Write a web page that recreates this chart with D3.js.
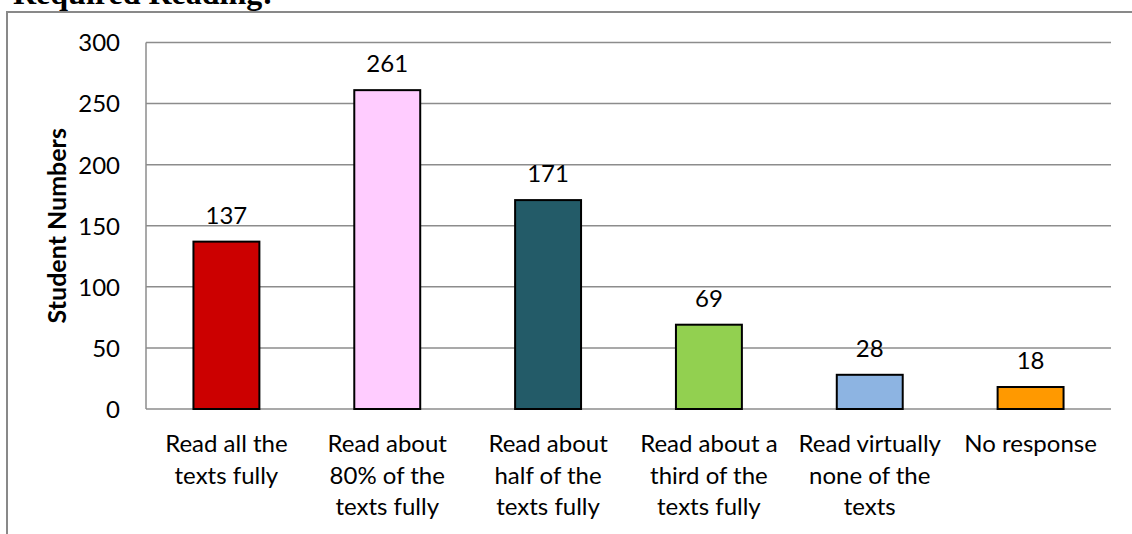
<!DOCTYPE html>
<html>
<head>
<meta charset="utf-8">
<script src="https://cdn.jsdelivr.net/npm/d3@7"></script>
<style>
  html, body { margin: 0; padding: 0; background: #ffffff; }
  svg { display: block; }
</style>
</head>
<body>
<svg id="chart" width="1132" height="534"></svg>
<script>
const categories = [
  "Read all the\ntexts fully",
  "Read about\n80% of the\ntexts fully",
  "Read about\nhalf of the\ntexts fully",
  "Read about a\nthird of the\ntexts fully",
  "Read virtually\nnone of the\ntexts",
  "No response"
];
const values = [137, 261, 171, 69, 28, 18];
const colors = ["#CC0000", "#FFCCFF", "#235B68", "#92D050", "#8DB4E2", "#FF9900"];
const yTicks = [0, 50, 100, 150, 200, 250, 300];
const yTitle = "Student Numbers";
const topText = "Required Reading:";

const W = 1132, H = 534;
const plot = { left: 146, right: 1111, top: 42.5, bottom: 409 };
const FONT = "Lato, 'Open Sans', sans-serif";
const FS = 24;

const svg = d3.select("#chart");

// cut-off heading above chart
svg.append("text")
  .attr("x", 13).attr("y", 3.5)
  .attr("font-family", "'Liberation Serif', 'Times New Roman', serif")
  .attr("font-weight", "bold")
  .attr("font-size", 32)
  .attr("fill", "#000")
  .text(topText);

// outer chart border (left + top visible)
svg.append("path")
  .attr("d", `M7,${H} L7,12 L${W},12`)
  .attr("fill", "none")
  .attr("stroke", "#898989")
  .attr("stroke-width", 2);

const x = d3.scaleBand()
  .domain(d3.range(categories.length))
  .range([plot.left, plot.right])
  .paddingInner(0.59)
  .paddingOuter(0.295);

const y = d3.scaleLinear().domain([0, 300]).range([plot.bottom, plot.top]);

// gridlines
svg.append("g")
  .selectAll("line")
  .data(yTicks)
  .join("line")
  .attr("x1", plot.left).attr("x2", plot.right)
  .attr("y1", d => y(d)).attr("y2", d => y(d))
  .attr("stroke", "#8c8c8c")
  .attr("stroke-width", 1.5);

// y axis line
svg.append("line")
  .attr("x1", plot.left).attr("x2", plot.left)
  .attr("y1", plot.top).attr("y2", plot.bottom)
  .attr("stroke", "#8c8c8c")
  .attr("stroke-width", 1.5);

// y tick labels via axis
const yAxis = d3.axisLeft(y).tickValues(yTicks).tickSize(0).tickPadding(0);
const yg = svg.append("g").attr("transform", `translate(${plot.left - 26},0)`).call(yAxis);
yg.select(".domain").remove();
yg.selectAll("text")
  .attr("font-family", FONT)
  .attr("font-size", FS)
  .attr("fill", "#000")
  .attr("dy", "0.35em");

// y title
svg.append("text")
  .attr("transform", `translate(66,${(plot.top + plot.bottom) / 2}) rotate(-90)`)
  .attr("text-anchor", "middle")
  .attr("font-family", FONT)
  .attr("font-weight", "bold")
  .attr("font-size", 25)
  .attr("fill", "#000")
  .text(yTitle);

// bars
svg.append("g")
  .selectAll("rect")
  .data(values)
  .join("rect")
  .attr("x", (d, i) => x(i))
  .attr("y", d => y(d))
  .attr("width", x.bandwidth())
  .attr("height", d => y(0) - y(d))
  .attr("fill", (d, i) => colors[i])
  .attr("stroke", "#000")
  .attr("stroke-width", 2);

// value labels
svg.append("g")
  .selectAll("text")
  .data(values)
  .join("text")
  .attr("x", (d, i) => x(i) + x.bandwidth() / 2)
  .attr("y", d => y(d) - 18)
  .attr("text-anchor", "middle")
  .attr("font-family", FONT)
  .attr("font-size", FS)
  .attr("fill", "#000")
  .text(d => d);

// category labels
const catG = svg.append("g")
  .selectAll("text")
  .data(categories)
  .join("text")
  .attr("x", (d, i) => x(i) + x.bandwidth() / 2)
  .attr("y", 452)
  .attr("text-anchor", "middle")
  .attr("font-family", FONT)
  .attr("font-size", FS)
  .attr("fill", "#000");
catG.each(function(d) {
  const t = d3.select(this);
  const cx = t.attr("x");
  d.split("\n").forEach((line, k) => {
    t.append("tspan").attr("x", cx).attr("dy", k === 0 ? 0 : 31.7).text(line);
  });
});
</script>
</body>
</html>
